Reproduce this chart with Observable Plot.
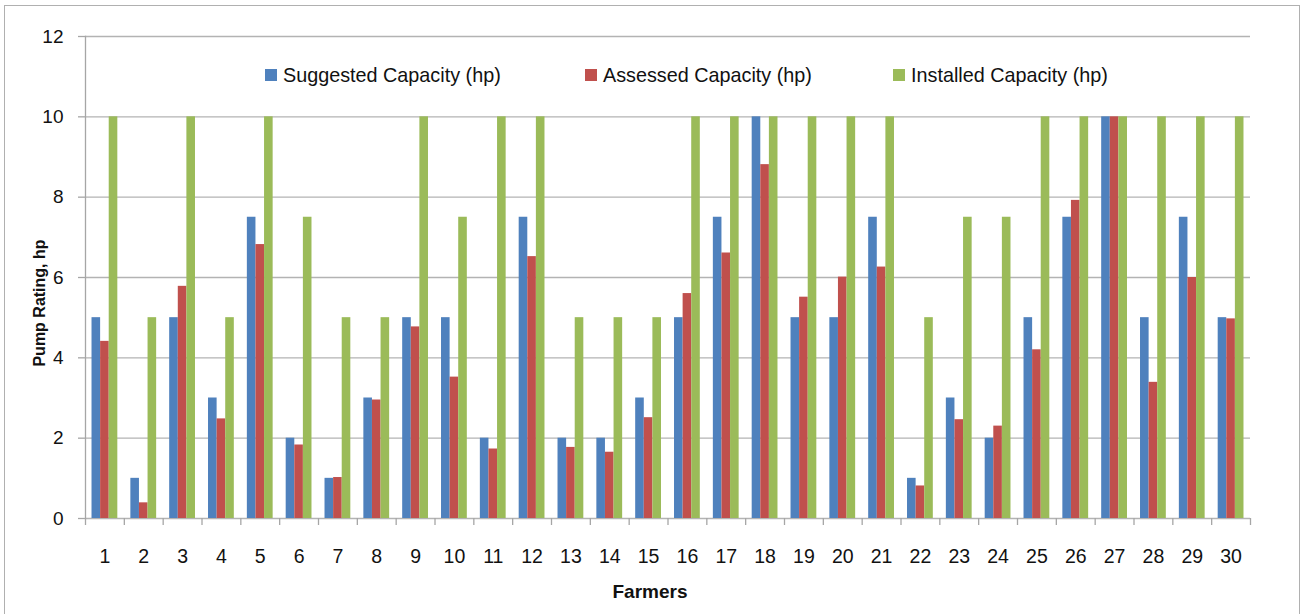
<!DOCTYPE html>
<html>
<head>
<meta charset="utf-8">
<script src="https://cdn.jsdelivr.net/npm/d3@7"></script>
<script src="https://cdn.jsdelivr.net/npm/@observablehq/plot@0.6"></script>
<style>
  html, body { margin: 0; padding: 0; background: #fff; }
  #wrap { position: relative; width: 1303px; height: 614px; overflow: hidden; font-family: "Liberation Sans", Arial, sans-serif; color: #111; }
  #border { position: absolute; left: 4px; top: 5px; width: 1296px; height: 640px; border: 1.5px solid #b0b0b0; box-sizing: border-box; pointer-events: none; }
  #chart { position: absolute; left: 0; top: 0; }
  .leg { position: absolute; top: 64px; height: 22px; font-size: 19.8px; display: flex; align-items: center; white-space: nowrap; }
  .sw { width: 12px; height: 12px; margin-right: 6px; display: inline-block; }
  #ytitle { position: absolute; left: 40px; top: 303px; transform: translate(-50%, -50%) rotate(-90deg); font-weight: bold; font-size: 16px; white-space: nowrap; }
  #xtitle { position: absolute; left: 650px; top: 592px; transform: translate(-50%, -50%); font-weight: bold; font-size: 19px; }
</style>
</head>
<body>
<div id="wrap">
  <div id="chart"></div>
  <div id="legend"></div>
  <div id="ytitle"></div>
  <div id="xtitle"></div>
  <div id="border"></div>
</div>
<script>
const farmers = Array.from({length: 30}, (_, i) => String(i + 1));
const seriesNames = ["Suggested Capacity (hp)", "Assessed Capacity (hp)", "Installed Capacity (hp)"];
const seriesColors = ["#4F81BD", "#C0504D", "#9BBB59"];
const suggested = [5,1,5,3,7.5,2,1,3,5,5,2,7.5,2,2,3,5,7.5,10,5,5,7.5,1,3,2,5,7.5,10,5,7.5,5];
const assessed  = [4.41,0.39,5.78,2.48,6.82,1.83,1.02,2.95,4.77,3.52,1.73,6.52,1.77,1.65,2.51,5.6,6.61,8.81,5.51,6.01,6.26,0.81,2.46,2.3,4.2,7.92,10,3.39,6.0,4.97];
const installed = [10,5,10,5,10,7.5,5,5,10,7.5,10,10,5,5,5,10,10,10,10,10,10,5,7.5,7.5,10,10,10,10,10,10];
const yTicks = [0,2,4,6,8,10,12];
const xTitle = "Farmers";
const yTitle = "Pump Rating, hp";

const W = 1303, H = 614, ML = 85, MR = 53, MT = 36, MB = 96;
const step = (W - ML - MR) / farmers.length;
const bw = 8.6;
const pad = (step - 3 * bw) / 2;

const mk = (vals) => farmers.map((f, i) => ({farmer: f, value: vals[i]}));
const seriesData = [mk(suggested), mk(assessed), mk(installed)];

const gray = "#a6a6a6";
const chart = Plot.plot({
  width: W, height: H,
  marginLeft: ML, marginRight: MR, marginTop: MT, marginBottom: MB,
  style: {fontFamily: "Liberation Sans, Arial, sans-serif", color: "#111", background: "transparent"},
  x: {type: "band", domain: farmers, padding: 0, round: false},
  y: {domain: [0, 12]},
  marks: [
    Plot.gridY(yTicks, {stroke: "#b3b3b3", strokeOpacity: 1, strokeWidth: 1.4}),
    Plot.frame({anchor: "left", stroke: gray, strokeWidth: 1.3}),
    ...seriesData.map((d, k) => Plot.barY(d, {
      x: "farmer", y: "value", fill: seriesColors[k],
      insetLeft: pad + k * bw, insetRight: pad + (2 - k) * bw
    })),
    Plot.axisY({ticks: yTicks, tickSize: 7, tickPadding: 15, fontSize: 19, label: null, stroke: gray, strokeWidth: 1.3}),
    Plot.axisX({text: null, tickSize: 7, dx: -step / 2, label: null, stroke: gray, strokeWidth: 1.3}),
    Plot.axisX({ticks: [farmers[farmers.length - 1]], text: null, tickSize: 7, dx: step / 2, label: null, stroke: gray, strokeWidth: 1.3}),
    Plot.axisX({tickSize: 0, tickPadding: 31, fontSize: 19.5, label: null})
  ]
});
document.getElementById("chart").appendChild(chart);

const legendX = [265, 585, 893];
const legend = document.getElementById("legend");
seriesNames.forEach((name, k) => {
  const item = document.createElement("div");
  item.className = "leg";
  item.style.left = legendX[k] + "px";
  const sw = document.createElement("span");
  sw.className = "sw";
  sw.style.background = seriesColors[k];
  item.appendChild(sw);
  item.appendChild(document.createTextNode(name));
  legend.appendChild(item);
});
document.getElementById("ytitle").textContent = yTitle;
document.getElementById("xtitle").textContent = xTitle;
</script>
</body>
</html>
